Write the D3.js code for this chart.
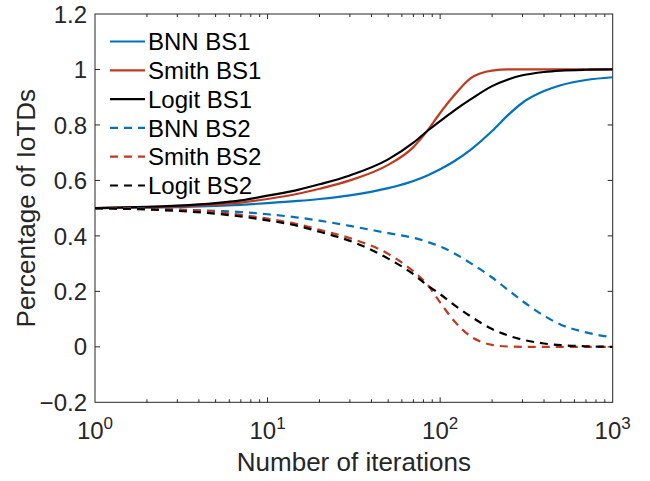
<html>
<head>
<meta charset="UTF-8">
<script src="https://d3js.org/d3.v7.min.js"></script>
<style>
  body { margin: 0; background: #fff; }
  text { font-family: "Liberation Sans", Arial, sans-serif; fill: #262626; }
</style>
</head>
<body>
<div id="chart"></div>
<script>
// iterations sampled on the x axis (log scale)
var iterations = [1, 2, 3, 5, 7, 10, 15, 20, 30, 50, 70, 85, 100, 120, 150, 200, 250, 300, 400, 500, 700, 1000];

// share of IoTDs for each strategy
var bnnBS1   = [0.5, 0.502, 0.504, 0.508, 0.512, 0.518, 0.526, 0.533, 0.546, 0.572, 0.598, 0.619, 0.64, 0.668, 0.71, 0.778, 0.838, 0.88, 0.922, 0.943, 0.962, 0.972];
var smithBS1 = [0.5, 0.503, 0.506, 0.513, 0.52, 0.533, 0.552, 0.57, 0.6, 0.656, 0.72, 0.782, 0.843, 0.905, 0.968, 0.996, 1, 1, 1, 1, 1, 1];
var logitBS1 = [0.5, 0.505, 0.509, 0.518, 0.528, 0.545, 0.566, 0.586, 0.618, 0.676, 0.736, 0.78, 0.814, 0.851, 0.892, 0.94, 0.965, 0.979, 0.991, 0.996, 0.999, 1];
var bnnBS2   = [0.5, 0.498, 0.495, 0.49, 0.486, 0.478, 0.466, 0.455, 0.436, 0.41, 0.393, 0.378, 0.362, 0.338, 0.302, 0.25, 0.203, 0.165, 0.112, 0.08, 0.052, 0.034];
var smithBS2 = [0.5, 0.497, 0.494, 0.487, 0.476, 0.462, 0.442, 0.422, 0.392, 0.335, 0.272, 0.222, 0.16, 0.095, 0.038, 0.007, 0.001, 0, 0, 0, 0, 0];
var logitBS2 = [0.5, 0.495, 0.49, 0.48, 0.47, 0.456, 0.436, 0.415, 0.382, 0.318, 0.262, 0.22, 0.19, 0.152, 0.11, 0.064, 0.04, 0.026, 0.012, 0.006, 0.002, 0];

var seriesNames = ["BNN BS1", "Smith BS1", "Logit BS1", "BNN BS2", "Smith BS2", "Logit BS2"];
var yTicks = [-0.2, 0, 0.2, 0.4, 0.6, 0.8, 1, 1.2];
var xTicks = [1, 10, 100, 1000];

var blue = "#0072BD", red = "#C1391F", black = "#000000";
var series = [
    {name: seriesNames[0], values: bnnBS1,   color: blue,  dash: null},
    {name: seriesNames[1], values: smithBS1, color: red,   dash: null},
    {name: seriesNames[2], values: logitBS1, color: black, dash: null},
    {name: seriesNames[3], values: bnnBS2,   color: blue,  dash: "8,6"},
    {name: seriesNames[4], values: smithBS2, color: red,   dash: "8,6"},
    {name: seriesNames[5], values: logitBS2, color: black, dash: "8,6"}
];

var width = 650, height = 481;
var plot = {left: 95, right: 612.7, top: 14, bottom: 402.3};
var axisColor = "#262626";

var svg = d3.select("#chart")
    .append("svg")
        .attr("width", width)
        .attr("height", height);

var x = d3.scaleLog()
    .domain([1, 1000])
    .range([plot.left, plot.right]);

var y = d3.scaleLinear()
    .domain([-0.2, 1.2])
    .range([plot.bottom, plot.top]);

// clip so lines stay inside the box
svg.append("clipPath")
    .attr("id", "clip")
    .append("rect")
        .attr("x", plot.left)
        .attr("y", plot.top)
        .attr("width", plot.right - plot.left)
        .attr("height", plot.bottom - plot.top);

// minor ticks for the log axis
var minorTicks = [];
[1, 10, 100].forEach(function(d) {
    for (var k = 2; k <= 9; k++) minorTicks.push(d * k);
});

var axes = svg.append("g");

// box
axes.append("rect")
    .attr("x", plot.left)
    .attr("y", plot.top)
    .attr("width", plot.right - plot.left)
    .attr("height", plot.bottom - plot.top)
    .style("fill", "none")
    .style("stroke", axisColor)
    .style("stroke-width", 1);

// x ticks, bottom and top, pointing in
axes.selectAll(".xmajor")
    .data(xTicks.slice(1, -1))
    .enter()
    .append("path")
    .attr("d", function(d) {
        var px = x(d);
        return "M" + px + "," + plot.bottom + "v-5M" + px + "," + plot.top + "v5";
    })
    .style("stroke", axisColor);

axes.selectAll(".xminor")
    .data(minorTicks)
    .enter()
    .append("path")
    .attr("d", function(d) {
        var px = x(d);
        return "M" + px + "," + plot.bottom + "v-3M" + px + "," + plot.top + "v3";
    })
    .style("stroke", axisColor);

// y ticks, left and right
axes.selectAll(".ytick")
    .data(yTicks.slice(1, -1))
    .enter()
    .append("path")
    .attr("d", function(d) {
        var py = y(d);
        return "M" + plot.left + "," + py + "h5M" + plot.right + "," + py + "h-5";
    })
    .style("stroke", axisColor);

// y tick labels
axes.selectAll(".ylabel")
    .data(yTicks)
    .enter()
    .append("text")
    .attr("x", plot.left - 8)
    .attr("y", function(d) { return y(d); })
    .attr("dy", "0.36em")
    .style("text-anchor", "end")
    .style("font-size", "24px")
    .text(function(d) { return d3.format("")(+d.toFixed(1)); });

// x tick labels as 10 with superscript exponent
var xl = axes.selectAll(".xlabel")
    .data(xTicks)
    .enter()
    .append("text")
    .attr("x", function(d) { return x(d); })
    .attr("y", 439)
    .style("text-anchor", "middle")
    .style("font-size", "24px");
xl.append("tspan").text("10");
xl.append("tspan")
    .attr("dy", "-10")
    .style("font-size", "17px")
    .text(function(d) { return Math.round(Math.log10(d)); });

// axis titles
svg.append("text")
    .attr("x", (plot.left + plot.right) / 2)
    .attr("y", 471)
    .style("text-anchor", "middle")
    .style("font-size", "26px")
    .text("Number of iterations");

svg.append("text")
    .attr("transform", "translate(35," + ((plot.top + plot.bottom) / 2) + ") rotate(-90)")
    .style("text-anchor", "middle")
    .style("font-size", "26px")
    .text("Percentage of IoTDs");

// curves
var line = d3.line()
    .x(function(d) { return x(d[0]); })
    .y(function(d) { return y(d[1]); })
    .curve(d3.curveMonotoneX);

svg.append("g")
    .attr("clip-path", "url(#clip)")
    .selectAll("path")
    .data(series)
    .enter()
    .append("path")
    .attr("d", function(s) { return line(d3.zip(iterations, s.values)); })
    .style("fill", "none")
    .style("stroke", function(s) { return s.color; })
    .style("stroke-width", 2.2)
    .style("stroke-dasharray", function(s) { return s.dash; });

// legend, no box
var legend = svg.append("g")
    .selectAll("g")
    .data(series)
    .enter()
    .append("g")
    .attr("transform", function(s, i) { return "translate(110," + (41.5 + i * 28.8) + ")"; });

legend.append("line")
    .attr("x1", 0)
    .attr("x2", 35)
    .style("stroke", function(s) { return s.color; })
    .style("stroke-width", 2.2)
    .style("stroke-dasharray", function(s) { return s.dash; });

legend.append("text")
    .attr("x", 38)
    .attr("dy", "0.36em")
    .style("font-size", "24px")
    .style("fill", "#000")
    .text(function(s) { return s.name; });
</script>
</body>
</html>
